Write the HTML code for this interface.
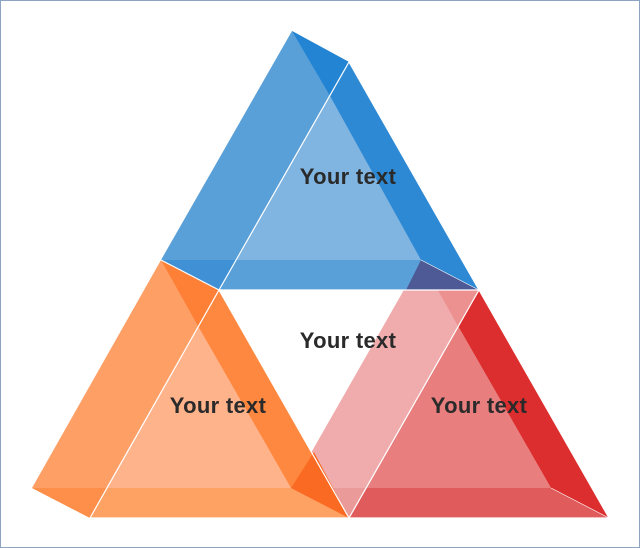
<!DOCTYPE html>
<html><head><meta charset="utf-8"><style>
html,body{margin:0;padding:0;background:#fff}
svg{display:block}
text{font-family:"Liberation Sans",sans-serif;font-weight:bold;font-size:22px;letter-spacing:0.3px;fill:#2a2a2a;text-anchor:middle}
</style></head><body>
<svg width="640" height="548" viewBox="0 0 640 548" xmlns="http://www.w3.org/2000/svg">
<rect x="0.5" y="0.5" width="639" height="547" fill="#fff" stroke="#8ea3c2"/>
<!-- RED -->
<polygon points="421,260 479,290 609,518 349,518 291,488" fill="#f0acac"/>
<polygon points="458,326 479,290 609,518 551,488" fill="#dc2e2e"/>
<polygon points="421,260 479,290 458,326" fill="#ec9090"/>
<polygon points="458,326 551,488 366,488" fill="#e97e7e"/>
<polygon points="349,518 609,518 551,488 366,488" fill="#e05b5b"/>
<polygon points="366,488 291,488 349,518" fill="#eb9a9a"/>
<polygon points="479,290 609,518 349,518" fill="none" stroke="#fff" stroke-width="1.2"/>
<line x1="551" y1="488" x2="609" y2="518" stroke="#fff" stroke-width="0.6"/>
<!-- ORANGE -->
<polygon points="161,260 219,290 349,518 90,518 32,488" fill="#fe9f66"/>
<polygon points="198,326 219,290 349,518 291,488" fill="#fe8840"/>
<polygon points="161,260 219,290 198,326" fill="#fe7f36"/>
<polygon points="198,326 291,488 106,488" fill="#feb38a"/>
<polygon points="90,518 349,518 291,488 106,488" fill="#fea264"/>
<polygon points="32,488 90,518 106,488" fill="#fe8f4a"/>
<polygon points="314,452 349,518 291,488" fill="#fb6a22"/>
<polygon points="219,290 349,518 90,518" fill="none" stroke="#fff" stroke-width="1.2"/>
<!-- BLUE -->
<polygon points="292,31 349,62 479,290 219,290 161,260" fill="#5aa0d8"/>
<polygon points="330,96 349,62 479,290 421,260" fill="#2e89d4"/>
<polygon points="292,31 349,62 330,96" fill="#2284d2"/>
<polygon points="330,96 421,260 237,260" fill="#80b5e2"/>
<polygon points="161,260 237,260 219,290" fill="#3f90d4"/>
<polygon points="421,260 479,290 406,290" fill="#4e5a95"/>
<polygon points="349,62 479,290 219,290" fill="none" stroke="#fff" stroke-width="1.2"/>
<line x1="161" y1="260" x2="219" y2="290" stroke="#fff" stroke-width="1.2"/>
<line x1="421" y1="260" x2="479" y2="290" stroke="#fff" stroke-width="0.6"/>
<text x="348" y="184">Your text</text>
<text x="348" y="348">Your text</text>
<text x="218" y="413">Your text</text>
<text x="479" y="413">Your text</text>
</svg>
</body></html>
